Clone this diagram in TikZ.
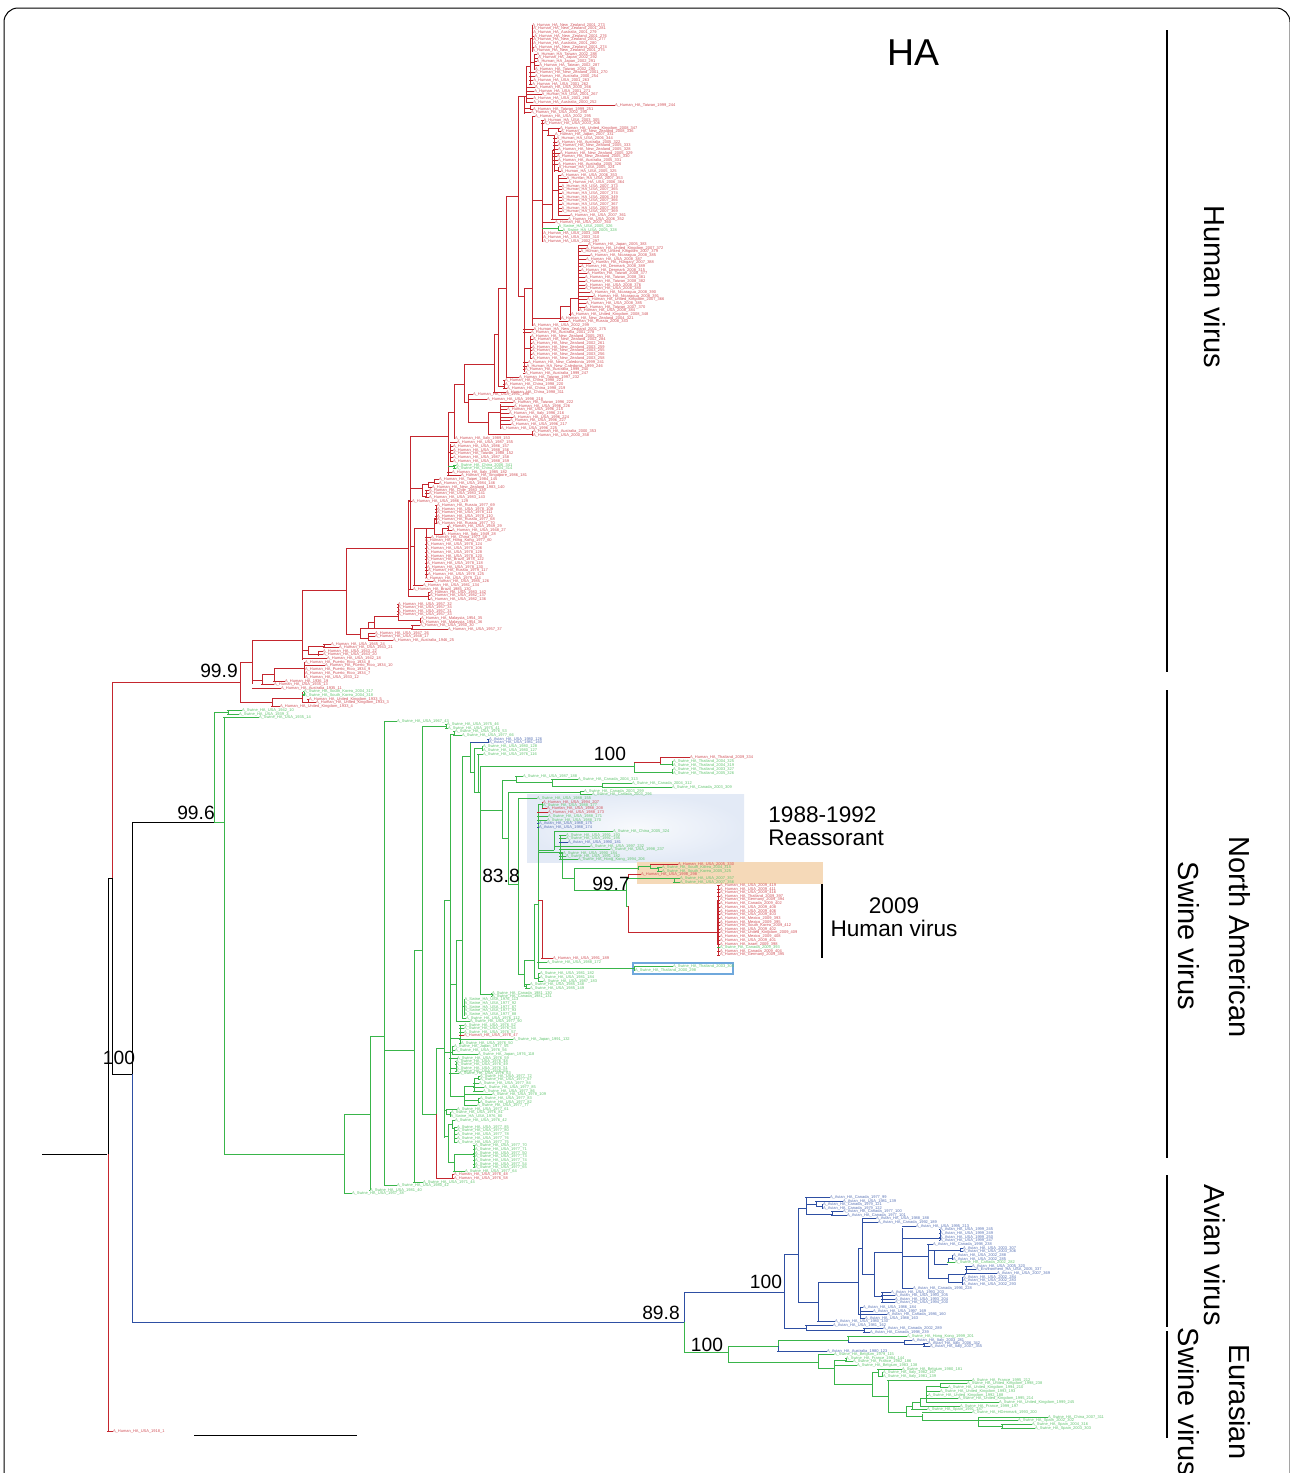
\documentclass[tikz,border=0pt]{standalone}
\usepackage{fontspec}
\setmainfont{Liberation Sans}
\definecolor{hred}{HTML}{C4262E}
\definecolor{sgreen}{HTML}{39B54A}
\definecolor{ablue}{HTML}{2E4FA3}
\definecolor{tipblue}{HTML}{6FA8DC}
\definecolor{orangeband}{HTML}{F5D9B8}
\definecolor{blueband}{HTML}{E3EAF6}
\catcode`\_=12
\tikzset{
 leaf/.style={anchor=west,inner sep=0pt,outer sep=0pt,font=\fontsize{2}{2.2}\selectfont},
 br/.style={line width=0.45pt,line cap=square},
 big/.style={inner sep=0pt,text=black,font=\fontsize{14.5}{17}\selectfont},
 mid/.style={inner sep=0pt,text=black,font=\fontsize{11.3}{11.5}\selectfont,align=left},
 boot/.style={inner sep=0pt,text=black,font=\fontsize{9.6}{11}\selectfont},
 bar/.style={line width=0.75pt,draw=black},
}
\newcounter{lfc}
\newcounter{sgc}
\def\cc{hred}
\newcommand\Lf[5]{\stepcounter{lfc}%
 \coordinate (j\thelfc) at (#2,#4);%
 \node[leaf,text=#1!80] (t\thelfc) at (#3,#4) {#5};%
 \draw[br,draw=#1] (j\thelfc) -- (t\thelfc.west);}
\newcommand\Hl[4]{\Lf{hred}{#1}{#2}{#3}{A_Human_HA_#4}}
\newcommand\Sl[4]{\Lf{sgreen}{#1}{#2}{#3}{A_Swine_HA_#4}}
\newcommand\Al[4]{\Lf{ablue}{#1}{#2}{#3}{A_Avian_HA_#4}}
\newcommand\Sg[4]{\stepcounter{sgc}%
 \pgfmathsetmacro\sgxa{2*round((#1)/2)}\pgfmathsetmacro\sgya{2*round((#2)/2)}%
 \pgfmathsetmacro\sgxb{2*round((#3)/2)}\pgfmathsetmacro\sgyb{2*round((#4)/2)}%
 \coordinate (p\thesgc) at (\sgxa,\sgya);\coordinate (q\thesgc) at (\sgxb,\sgyb);%
 \draw[br,draw=\cc] (p\thesgc) -- (q\thesgc);}
\newcommand\Vb[3]{\Sg{#1}{#2}{#1}{#3}}
\newcommand\Hb[3]{\Sg{#2}{#1}{#3}{#1}}
\begin{document}
\begin{tikzpicture}[x=0.5pt,y=-0.5pt]
\useasboundingbox (0,0) rectangle (1290,1473);
% frame
\coordinate (fa) at (4,1480);\coordinate (fb) at (4,8);\coordinate (fc) at (1290,8);\coordinate (fd) at (1290,1480);
\draw[black,line width=0.5pt,rounded corners=7pt] (fa) -- (fb) -- (fc) -- (fd);
% bands
\shade[inner color=white!75!blueband,outer color=blueband] (527,794) rectangle (744,862);
\fill[orangeband] (637,862) rectangle (823,884);
\node[draw=tipblue,line width=0.75pt,minimum width=50pt,minimum height=5.4pt,inner sep=0pt] (tipbox) at (683,968.5) {};
% === root ===
\def\cc{black}
\coordinate (root) at (42,1154);\coordinate (rootj) at (107,1154);
\draw[br,draw=black] (root) -- (rootj);
\Vb{107}{877}{1154}\Hb{877}{107}{112}
\Vb{112}{877}{1073}\Hb{1073}{112}{131}\Vb{131}{822}{1073}\Hb{822}{131}{214}
\def\cc{hred}
\Vb{107}{1154}{1431}\Hl{107}{113}{1431}{USA_1918_1}
\Vb{112}{682}{877}\Hb{682}{112}{240}
\Vb{240}{661}{701}\Hb{661}{240}{252}\Vb{252}{639}{683}\Hb{639}{252}{302}
\Hb{679}{252}{261}\Vb{261}{674}{684}\Hb{674}{261}{273}\Vb{273}{668}{681}\Hb{668}{273}{304}\Vb{304}{662}{677}
\Hl{304}{305}{662}{Puerto_Rico_1934_8}\Hl{304}{325}{665.5}{Puerto_Rico_1934_10}\Hl{304}{305}{669}{Puerto_Rico_1934_9}\Hl{304}{305}{673}{Puerto_Rico_1934_7}\Hl{304}{305}{677}{USA_1933_12}
\Hl{273}{285}{681}{1936_19}\Hl{261}{274}{684}{USA_1935_13}\Hl{252}{281}{688}{Australia_1935_11}
\Hb{701}{240}{271}\Vb{271}{697}{706}\Hb{697}{271}{301}\Vb{301}{692}{701}
\def\cc{sgreen}\Hb{693}{301}{303}\Vb{303}{691.5}{695}
\Sl{303}{304}{691.5}{South_Korea_2004_317}\Sl{303}{304}{695}{South_Korea_2004_318}
\def\cc{hred}\Hb{701}{301}{307}\Vb{307}{699}{702}\Hl{307}{309}{699}{United_Kingdom_1933_5}\Hl{307}{316}{702}{United_Kingdom_1933_3}\Hl{271}{280}{706}{United_Kingdom_1933_4}
% 1940s-50s
\Vb{302}{590}{659}\Hl{302}{327}{658.5}{USA_1942_18}
\Hb{650}{302}{307}\Vb{307}{646}{653}\Hb{646}{307}{323}\Vb{323}{644}{648}\Hl{323}{331}{644}{USA_1945_24}\Hl{323}{339}{647.5}{USA_1943_21}
\Hb{653}{307}{318}\Vb{318}{651}{655}\Hl{318}{323}{651}{USA_1943_22}\Hl{318}{323}{654.5}{USA_1943_20}
\Hb{590}{302}{346}\Vb{346}{547}{633}\Hb{633}{346}{359}\Vb{359}{628}{638}
\Hb{628}{359}{411}\Vb{411}{625}{629}\Hl{411}{420}{625}{USA_1950_30}\Hl{411}{448}{629}{USA_1957_37}
\Hb{621}{367}{373}\Vb{367}{621}{628}\Vb{373}{615}{628}\Hb{615}{373}{397}\Vb{397}{604}{620}
\Hl{397}{398}{604}{USA_1957_32}\Hl{397}{398}{607.5}{USA_1957_34}\Hl{397}{398}{611}{USA_1957_31}\Hl{397}{398}{614.5}{USA_1957_33}
\Hb{620}{397}{420}\Vb{420}{618}{622}\Hl{420}{421}{618}{Malaysia_1954_35}\Hl{420}{421}{622}{Malaysia_1954_36}
\Hb{638}{359}{368}\Vb{368}{633}{640}\Hl{368}{375}{633}{USA_1947_26}\Hl{368}{375}{636.5}{USA_1948_17}\Hl{368}{393}{640}{Australia_1946_25}
% x=407 group
\Hb{547}{346}{407}\Vb{407}{499}{595}\Hb{499}{407}{409}\Vb{409}{436}{589}\Hl{409}{412}{501}{USA_1986_129}\Hl{409}{413}{589.3}{Brazil_1985_130}
\Hb{488}{409}{421}\Vb{421}{483}{495}\Hb{483}{421}{428}\Vb{428}{481}{487}\Hb{481}{428}{434}\Vb{434}{479}{483}
\Hl{434}{439}{479}{Taipei_1984_145}\Hl{434}{439}{483}{USA_1984_146}\Hl{428}{432}{487}{New_Zealand_1983_140}
\Hb{495}{421}{425}\Vb{425}{490}{497}\Hl{425}{429}{490}{Chile_1983_139}\Hl{425}{429}{493.5}{USA_1983_141}\Hl{425}{429}{497}{USA_1983_143}
\Hb{545}{409}{413}\Vb{413}{527}{585}\Hl{413}{423}{585.3}{USA_1981_134}
\Hb{527}{413}{425}\Vb{425}{527}{578}\Hb{527}{425}{434}\Vb{434}{518}{533}\Hb{518}{434}{435}\Vb{435}{505}{523}
\Hl{435}{437}{505}{Russia_1977_69}\Hl{435}{437}{509}{USA_1978_108}\Hl{435}{437}{512.5}{USA_1978_111}\Hl{435}{437}{516}{USA_1978_110}\Hl{435}{437}{519.5}{Russia_1977_68}\Hl{435}{437}{523}{Russia_1977_70}
\Hb{533}{434}{441}\Vb{441}{528}{534}\Hb{528}{441}{447}\Vb{447}{526}{530}\Hl{447}{448}{526}{USA_1949_29}\Hl{447}{452}{530}{USA_1948_27}\Hl{441}{443}{534}{Italy_1949_28}
\Hl{425}{431}{537.3}{China_1977_58}\Hl{425}{425}{541}{Hong_Kong_1977_60}\Hl{425}{426}{544.3}{USA_1978_124}\Hl{425}{426}{548.3}{USA_1978_106}\Hl{425}{426}{552.3}{USA_1978_128}\Hl{425}{426}{556}{USA_1978_120}\Hl{425}{426}{559.3}{Brazil_1978_122}\Hl{425}{427}{563.3}{USA_1978_118}\Hl{425}{427}{567}{USA_1978_130}\Hl{425}{428}{570.7}{Russia_1979_117}\Hl{425}{428}{574.3}{USA_1978_125}\Hl{425}{425}{578}{USA_1979_114}\Hl{425}{433}{581.3}{USA_1985_126}
\Hb{595}{407}{428}\Vb{428}{592}{599}\Hl{428}{430}{592.3}{USA_1983_142}\Hl{428}{430}{595.7}{USA_1982_137}\Hl{428}{430}{599.3}{USA_1982_136}
% x=447 group
\Hb{436}{409}{447}\Vb{447}{411}{475}\Hl{447}{452}{472}{Italy_1985_182}\Hl{447}{461}{475.3}{Singapore_1986_181}
\Hb{451}{447}{450}\Vb{450}{443}{461}\Hl{450}{457}{442.3}{USA_1987_155}\Hl{450}{453}{446}{USA_1986_157}\Hl{450}{453}{450}{USA_1988_156}\Hl{450}{453}{453.7}{Taiwan_1988_152}\Hl{450}{453}{457.3}{USA_1987_158}\Hl{450}{453}{461}{USA_1988_159}
\def\cc{sgreen}\Hb{466}{447}{453}\Vb{453}{465}{468}\Sl{453}{456}{465}{China_2006_341}\Sl{453}{456}{468}{China_2004_314}
\def\cc{hred}
\Hb{411}{447}{454}\Vb{454}{383}{438}\Hl{454}{455}{438}{Italy_1989_153}\Hb{383}{454}{463}\Vb{463}{363}{402}\Hb{402}{463}{468}\Vb{468}{394}{422}
\Hl{468}{473}{394}{USA_1991_198}\Hl{468}{487}{399}{USA_1998_218}\Hb{422}{468}{488}\Vb{488}{411}{433}\Hb{433}{488}{532}\Vb{532}{431}{435}\Hl{532}{533}{431}{Australia_2000_353}\Hl{532}{533}{435}{USA_2000_358}
\Hb{411}{488}{500}\Vb{500}{403}{428}
\Hl{500}{513}{402}{Taiwan_1996_222}\Hl{500}{514}{406}{USA_1996_226}\Hl{500}{507}{409}{USA_1996_215}\Hl{500}{509}{413}{Italy_1996_216}\Hl{500}{513}{417}{USA_1996_224}\Hl{500}{510}{420}{USA_1996_227}\Hl{500}{511}{424}{USA_1996_217}\Hl{500}{501}{428}{USA_1996_225}
\Hb{363}{463}{493}\Vb{493}{334}{392}\Hl{493}{506}{392}{China_1998_311}\Hb{334}{493}{497}\Vb{497}{287}{385}\Hb{385}{497}{503}\Vb{503}{380}{388}
\Hl{503}{505}{380}{China_1998_221}\Hl{503}{505}{384}{China_1998_220}\Hl{503}{507}{388}{China_1998_219}
\Hb{287}{497}{506}\Vb{506}{195}{377}\Hl{506}{519}{377}{Taiwan_1997_232}\Hb{195}{506}{518}\Vb{518}{95}{295}
% top clade
\Hb{95}{518}{525.5}\Vb{524}{95}{113}\Hb{107}{524}{530}\Vb{530}{105.5}{109}
\Hl{530}{615}{105.5}{Taiwan_1999_244}\Hl{530}{533}{109}{Taiwan_1999_251}\Hl{524}{531}{112.7}{USA_2002_290}
\Vb{526}{65}{102}\Hb{65}{526}{529}\Vb{529}{38}{84}\Hb{38}{529}{531.5}\Vb{531.5}{25}{51}\Hb{61}{529}{534}\Vb{534}{54}{69}
\Hl{531.5}{532.3}{25}{New_Zealand_2001_273}\Hl{531.5}{533.3}{28.7}{New_Zealand_2001_281}\Hl{531.5}{533.3}{32.3}{Australia_2001_279}\Hl{531.5}{534.3}{36}{New_Zealand_2001_276}\Hl{531.5}{533.3}{39.7}{New_Zealand_2001_277}\Hl{531.5}{533.3}{43.3}{Australia_2001_280}\Hl{531.5}{534.3}{47}{New_Zealand_2001_274}\Hl{531.5}{532.3}{50.7}{New_Zealand_2001_275}
\Hl{534}{536.7}{54.3}{Taiwan_2002_288}\Hl{534}{538.3}{58}{Japan_2002_292}\Hl{534}{536.7}{61.7}{Japan_2002_291}\Hl{534}{539.3}{65.3}{Taiwan_2002_287}\Hl{534}{535}{69}{Taiwan_2002_290}
\Hl{529}{535}{72.3}{New_Zealand_2001_270}\Hl{529}{535}{76.7}{Australia_2000_254}\Hl{529}{533.3}{80.3}{USA_2001_263}\Hl{529}{532.3}{84}{USA_2001_262}
\Hl{526}{535}{87.3}{USA_2000_266}\Hl{526}{534.3}{91}{USA_2001_271}\Hl{526}{541.7}{94.7}{USA_2001_267}\Hl{526}{533.3}{98.3}{USA_2001_268}\Hl{526}{533.3}{102}{Australia_2000_252}
% second clade
\Hb{295}{518}{523}\Vb{523}{287}{372}\Hb{287}{523}{532}\Vb{532}{116}{325}
\Hl{532}{535}{116}{USA_2002_295}\Hl{532}{533}{325}{USA_2002_299}
\Hb{200}{532}{541}\Vb{541}{120}{205}\Hl{541}{543.5}{120}{USA_2003_305}\Hl{541}{544}{123.7}{USA_2003_306}
\Hb{130}{541}{547}\Vb{547}{128}{135}\Hb{128}{547}{558}\Vb{558}{128}{131}\Hl{558}{560}{128}{United_Kingdom_2008_347}\Hl{558}{561}{131}{New_Zealand_2008_336}\Hl{547}{555}{135}{Japan_2007_331}
\Hb{203}{541}{551}\Vb{551}{150}{219}\Hl{551}{568}{219}{USA_2006_352}\Hb{150}{551}{553}\Vb{553}{136}{172}
\Hl{553}{556.7}{138.7}{USA_2006_344}\Hl{553}{557}{142}{Australia_2005_322}\Hl{553}{558}{145.7}{New_Zealand_2005_333}\Hl{553}{558}{149.3}{New_Zealand_2005_328}\Hl{553}{560}{153}{New_Zealand_2005_329}\Hl{553}{557}{156.7}{New_Zealand_2005_330}\Hl{553}{558}{160.3}{Australia_2005_331}\Hl{553}{558}{164.3}{Australia_2005_326}
\Hb{169.5}{553}{558}\Vb{558}{167.7}{171.3}\Hl{558}{558.5}{167.7}{USA_2005_324}\Hl{558}{560.5}{171.3}{USA_2005_325}
\Hb{190}{551}{558}\Vb{558}{175}{215}
\Hl{558}{561}{175}{USA_2006_353}\Hl{558}{566.7}{178.7}{USA_2007_353}\Hl{558}{568.3}{182.3}{USA_2006_364}\Hl{558}{561.7}{186}{USA_2007_373}\Hl{558}{561.7}{189.7}{USA_2007_365}\Hl{558}{561.7}{193.3}{USA_2007_374}\Hl{558}{561.7}{197}{USA_2006_349}\Hl{558}{561.7}{200.7}{USA_2007_366}\Hl{558}{561.7}{204.3}{USA_2007_367}\Hl{558}{561.7}{208}{USA_2007_368}\Hl{558}{561.7}{211.7}{USA_2007_369}\Hl{558}{570}{215.3}{USA_2007_361}
\Vb{542}{205}{241}\Hl{542}{555}{222.7}{USA_2007_360}
\def\cc{sgreen}\Hb{228}{542}{558}\Vb{558}{226.7}{230}\Sl{558}{558.5}{226.7}{USA_2005_326}\Sl{558}{562.7}{230}{USA_2005_328}\def\cc{hred}
\Hl{542}{543.3}{233.7}{USA_2003_309}\Hl{542}{543.3}{237.3}{USA_2003_310}\Hl{542}{543.3}{241}{USA_2002_297}
\Hb{317}{532}{559}\Vb{559}{305}{320}\Hb{305}{559}{569}\Vb{569}{297}{315}\Hb{297}{569}{578}\Vb{578}{245}{310.7}
\Hl{569}{571}{314.7}{United_Kingdom_2008_348}\Hl{559}{561}{318}{New_Zealand_2004_321}\Hl{559}{568}{321}{Russia_2008_343}
\Hl{578}{588}{245}{Japan_2005_383}\Hl{578}{586}{248.3}{United_Kingdom_2007_372}\Hl{578}{580.7}{251.7}{United_Kingdom_2007_379}\Hl{578}{590}{255.7}{Nicaragua_2008_385}\Hl{578}{586}{259}{USA_2008_387}\Hl{578}{591}{263}{Hungary_2007_388}\Hl{578}{581}{266.3}{Denmark_2008_389}\Hl{578}{581}{270}{Denmark_2008_315}\Hl{578}{587}{273.7}{Taiwan_2008_377}\Hl{578}{585}{277.7}{Taiwan_2008_381}\Hl{578}{585}{281.3}{Taiwan_2008_382}\Hl{578}{585}{285}{USA_2008_376}\Hl{578}{585}{288.7}{USA_2008_380}\Hl{578}{590}{292.3}{Nicaragua_2008_390}\Hl{578}{593}{296}{Nicaragua_2008_391}\Hl{578}{587}{299.7}{United_Kingdom_2007_366}\Hl{578}{586}{303.3}{USA_2008_385}\Hl{578}{585}{307}{Taiwan_2007_370}\Hl{578}{579}{310.7}{USA_2008_384}
\Hl{523}{533.5}{329}{New_Zealand_2001_275}\Hl{523}{531}{332}{Australia_2001_278}
\Hb{347}{523}{530}\Vb{530}{336.3}{358.3}
\Hl{530}{531}{336.3}{New_Zealand_2005_293}\Hl{530}{533}{339.7}{New_Zealand_2002_284}\Hl{530}{532}{343.3}{New_Zealand_2002_261}\Hl{530}{532}{347.3}{New_Zealand_2003_259}\Hl{530}{532}{350.7}{New_Zealand_2003_255}\Hl{530}{532}{354.7}{New_Zealand_2003_256}\Hl{530}{532}{358.3}{New_Zealand_2003_258}
\Hl{523}{528}{362.3}{New_Caledonia_1999_241}\Hl{523}{526.7}{366}{New_Caledonia_1999_246}\Hl{523}{525}{369.3}{Australia_1999_240}\Hl{523}{525}{373}{Australia_1999_247}
% === green ===
\def\cc{sgreen}
\Vb{214}{712}{822}\Hb{822}{214}{223}\Hb{712}{214}{227}\Vb{227}{710}{714}\Sl{227}{242}{710}{USA_1942_10}\Sl{227}{239}{714}{USA_1939_3}
\Vb{223}{717}{1153}\Sl{223}{259}{717}{USA_1935_14}\Hb{1153}{223}{344}\Vb{344}{1113}{1193}\Sl{344}{352}{1193}{USA_1957_38}
\Hb{1113}{344}{369}\Vb{369}{1036}{1190}\Sl{369}{370}{1190}{USA_1981_40}\Hb{1036}{369}{384}\Vb{384}{721}{1185}\Sl{384}{397}{721}{USA_1967_43}\Sl{384}{397}{1185}{USA_1980_42}
\Hb{1050}{384}{413}\Vb{413}{950}{1182}\Sl{413}{423}{1182}{USA_1971_44}\Hb{950}{413}{422}\Vb{422}{726}{1113}\Hb{726}{422}{445}\Vb{445}{724}{728}\Sl{445}{447}{724}{USA_1975_46}\Sl{445}{448}{728}{USA_1975_41}
\Hb{1113}{422}{435}\Vb{435}{1047}{1113}
\def\cc{hred}\Vb{435}{1113}{1177}\Hb{1177}{435}{452}\Vb{452}{1174.6}{1178}\Hl{452}{454}{1174.6}{USA_1976_48}\Hl{452}{454}{1178}{USA_1976_58}\def\cc{sgreen}
\Hb{1047}{435}{443}\Vb{443}{900}{1137}\Hb{900}{443}{449}
\Hb{1051}{443}{452}\Vb{452}{1046}{1054}\Sl{452}{454}{1046.5}{Japan_1977_55}\Sl{452}{455}{1050}{USA_1976_56}\Sl{452}{478}{1054}{Japan_1976_118}
\Hb{1110}{443}{446}\Vb{446}{1109}{1114}\Sl{446}{457}{1109}{USA_1977_61}\Hb{1114}{446}{450}\Vb{450}{1112.5}{1116.5}\Sl{450}{451}{1112.5}{USA_1976_81}\Sl{450}{450.5}{1116.5}{USA_1976_80}
\Hb{1135}{443}{448}\Vb{448}{1123}{1162}\Hb{1123}{448}{452}\Vb{452}{1120}{1128}\Sl{452}{455}{1120}{USA_1976_42}\Hb{1128}{452}{454}\Vb{454}{1127}{1142}
\Sl{454}{457}{1127}{USA_1977_85}\Sl{454}{457}{1130.5}{USA_1977_80}\Sl{454}{457}{1134}{USA_1977_78}\Sl{454}{457}{1138}{USA_1977_76}\Sl{454}{457}{1142}{USA_1977_75}
\Hb{1162}{448}{453}\Vb{453}{1153}{1171}\Hb{1153}{453}{473}\Vb{473}{1145.5}{1168}\Sl{453}{465}{1171}{USA_1977_64}
\Sl{473}{475}{1145.5}{USA_1977_70}\Sl{473}{475}{1149.5}{USA_1977_71}\Sl{473}{475}{1153}{USA_1977_50}\Sl{473}{475}{1156.5}{USA_1977_73}\Sl{473}{475}{1160.5}{USA_1977_74}\Sl{473}{475}{1164}{USA_1977_54}\Sl{473}{475}{1167.5}{USA_1977_65}
\Vb{449}{733}{1095}\Hb{733}{449}{453}\Vb{453}{731}{735}\Sl{453}{455}{731}{USA_1976_53}\Sl{453}{462}{735}{USA_1977_66}
\Hb{1058}{449}{457}\Sl{449}{457}{1058}{USA_1976_59}\Hb{1068}{449}{455}\Vb{455}{1061}{1072}\Sl{455}{456}{1061}{USA_1976_48}\Sl{455}{456}{1064.5}{USA_1976_49}\Sl{455}{456}{1068}{USA_1976_51}\Sl{455}{456}{1071.5}{USA_1976_55}\Sl{449}{459}{1073}{USA_1976_63}
\Hb{1095}{449}{464}\Vb{464}{1085}{1105}\Hb{1085}{464}{473}\Vb{473}{1077}{1091}\Hb{1077}{473}{478}\Vb{478}{1076}{1079.5}\Sl{478}{480}{1076}{USA_1977_72}\Sl{478}{480}{1079.5}{USA_1977_67}\Sl{473}{479}{1083}{USA_1977_84}\Sl{473}{484}{1087}{USA_1977_85}\Sl{473}{483}{1091}{USA_1977_86}
\Sl{464}{492}{1094.5}{USA_1978_109}\Hb{1100}{464}{478}\Vb{478}{1098}{1102}\Sl{478}{480}{1098}{USA_1977_83}\Sl{478}{480}{1102}{USA_1977_82}\Sl{464}{477}{1105.5}{USA_1977_77}
\Hb{1038}{449}{459}\Vb{459}{1025}{1043}\Sl{459}{464}{1025}{USA_1976_52}\Sl{459}{464}{1028.5}{USA_1976_54}\Sl{459}{464}{1032}{USA_1976_57}\Hl{459}{464}{1035.5}{USA_1976_47}\Sl{459}{513}{1039}{Japan_1991_132}\Sl{459}{461}{1043}{USA_1976_50}
\Hb{983}{449}{456}\Vb{456}{940}{1021}\Sl{456}{470}{1021}{USA_1977_90}\Hb{940}{456}{462}
\Vb{462}{756}{1018}\Sl{462}{466}{1018}{USA_1976_112}\Hb{1005}{462}{464}\Vb{464}{999}{1015}
\Sl{464}{464.5}{999}{USA_1976_113}\Sl{464}{464.5}{1003.5}{USA_1977_92}\Sl{464}{464.5}{1007}{USA_1977_87}\Sl{464}{464.5}{1010.5}{USA_1977_93}\Sl{464}{464.5}{1014.5}{USA_1977_88}
\Hb{756}{462}{470}\Vb{470}{741}{771}\def\cc{ablue}\Hb{741}{470}{487}\Vb{487}{739}{742.5}\Al{487}{489}{739}{USA_1980_126}\Al{487}{489}{742.5}{USA_1981_160}\def\cc{sgreen}
\Hb{771}{470}{473}\Vb{473}{748}{792}\Hb{748}{473}{482}\Vb{482}{746}{750}\Sl{482}{483}{746}{USA_1980_128}\Sl{482}{483}{750}{USA_1980_127}
\Hb{792}{473}{477}\Vb{477}{754}{792}\Sl{477}{483}{754}{USA_1976_116}\Hb{792}{477}{480}
\Vb{480}{765}{993}\Hb{993}{480}{491}\Vb{491}{993}{996}\Sl{491}{492}{993}{Canada_1981_130}\Sl{491}{492}{996}{Canada_1981_131}
\Hb{765}{480}{633}\Vb{633}{761}{771}\def\cc{hred}\Hb{761}{633}{660}\Vb{660}{757}{763}\Hl{660}{690}{757}{Thailand_2009_334}\def\cc{sgreen}\Hb{763}{660}{672}\Vb{672}{761}{765}\Sl{672}{673}{761}{Thailand_2004_325}\Sl{672}{673}{765}{Thailand_2004_319}
\Hb{771}{633}{672}\Vb{672}{769}{773}\Sl{672}{673}{769}{Thailand_2003_327}\Sl{672}{673}{773}{Thailand_2005_326}
\Hb{809}{480}{502}\Vb{502}{779}{838}\Hb{779}{502}{515}\Vb{515}{776}{782}\Sl{515}{523}{776}{USA_1987_188}\Hb{782}{515}{551}\Vb{551}{779.5}{785}\Sl{551}{578}{779.5}{Canada_2004_313}\Hb{785}{551}{602}\Vb{602}{783}{787}\Sl{602}{632}{783}{Canada_2004_312}\Sl{602}{672}{787}{Canada_2003_309}
\Hb{838}{502}{507}\Vb{507}{792}{883}\Hb{792}{507}{580}\Vb{580}{791}{794}\Sl{580}{584}{791}{Canada_2003_299}\Sl{580}{592}{794}{Canada_2003_296}
\Hb{883}{507}{518}\Vb{518}{798}{973}\Sl{518}{537}{798}{USA_1988_155}\Hb{973}{518}{523}\Vb{523}{960}{985}\Hb{985}{523}{525}\Vb{525}{984}{988}\Sl{525}{530}{984}{USA_1985_148}\Sl{525}{530}{988}{USA_1985_149}
\Hb{960}{523}{533}\Vb{533}{903}{977}\Hb{977}{533}{538}\Vb{538}{973}{981}\Sl{538}{540}{973}{USA_1981_182}\Sl{538}{540}{977}{USA_1981_184}\Sl{538}{543}{981}{USA_1987_183}
\Hb{903}{533}{537}\Vb{537}{803}{967}\Sl{537}{547}{962}{USA_1988_172}
\Hb{967}{537}{634}\Vb{634}{966}{970}\Sl{634}{673}{966}{Thailand_2003_304}\Sl{634}{635}{970}{Thailand_2000_298}
\Hb{804}{537}{542}\Vb{542}{802}{808}\Hl{542}{543}{802}{USA_1994_207}\Sl{542}{543}{805}{USA_1988_177}\Hl{542}{547}{808}{USA_1988_208}
\Hl{537}{548}{812}{USA_1988_173}\Sl{537}{548}{816}{USA_1988_171}\Sl{537}{547}{820}{USA_1988_170}\Al{537}{539}{823}{USA_1988_175}\Al{537}{539}{827}{USA_1988_174}
\Hb{850}{537}{554}\Vb{554}{831}{850}\Sl{554}{613}{831}{China_2005_324}\Hb{845}{554}{559}\Vb{559}{835}{859}
\Sl{559}{566}{835}{USA_1991_193}\Sl{559}{566}{838}{USA_1991_195}\Al{559}{568}{842}{USA_1990_181}\Sl{559}{590}{846}{USA_1997_232}\Sl{559}{610}{849}{USA_1998_237}\Sl{559}{563}{853}{USA_1990_184}\Sl{559}{566}{856}{USA_1991_182}\Sl{559}{578}{859}{Hong_Kong_1994_206}
\Hb{852}{537}{561}\Vb{561}{852}{878}\Hb{878}{561}{574}\Vb{574}{867}{890}
\Hb{867}{574}{637}\Vb{637}{866}{870}\Hb{866}{637}{650}\Vb{650}{864}{868}\Hl{650}{678}{864}{USA_2005_330}\Hb{868}{650}{657}\Vb{657}{867}{871}\Sl{657}{662}{867}{South_Korea_2004_315}\Sl{657}{662}{871}{South_Korea_2005_325}
\Hb{890}{574}{626}\Vb{626}{878}{906}\Hb{878}{626}{673}\Vb{673}{878}{882}\Sl{673}{680}{878}{USA_2007_357}\Sl{673}{680}{882}{USA_2007_356}
\Hb{906}{626}{628}
\def\cc{hred}\Hl{628}{641}{874}{USA_1998_298}\Vb{628}{874}{878}
\Vb{628}{906}{932}\Hb{932}{628}{717}\Vb{717}{885}{955}
\Hb{900}{537}{541}\Vb{541}{900}{958}\Hl{541}{553}{958}{USA_1991_189}
\coordinate (th1) at (718,900);\coordinate (th2) at (718,945);\draw[draw=hred,line width=0.9pt] (th1) -- (th2);
\Hl{717}{720}{885}{USA_2009_419}\Hl{717}{720}{889}{USA_2009_411}\Hl{717}{720}{892.7}{USA_2009_416}\Hl{717}{720}{896.3}{Thailand_2009_397}\Hl{717}{720}{900}{Germany_2009_394}\Hl{717}{720}{903.7}{Canada_2009_402}\Hl{717}{720}{907.3}{USA_2009_408}\Hl{717}{720}{911}{USA_2009_406}\Hl{717}{720}{914.7}{USA_2009_403}\Hl{717}{720}{918.3}{Mexico_2009_393}\Hl{717}{720}{922.3}{Mexico_2009_395}\Hl{717}{720}{925.7}{South_Korea_2009_412}\Hl{717}{720}{929.3}{USA_2009_402}\Hl{717}{720}{932.7}{United_Kingdom_2009_409}\Hl{717}{720}{936.7}{Mexico_2009_408}\Hl{717}{720}{940.3}{USA_2009_401}\Hl{717}{720}{944}{Israel_2009_398}\Sl{717}{720}{947.3}{Canada_2009_393}\Hl{717}{720}{951.3}{Canada_2009_404}\Hl{717}{720}{955}{Germany_2009_395}
% === avian ===
\def\cc{ablue}
\Hb{1322}{131}{684}\Vb{131}{1073}{1322}\Vb{684}{1291}{1322}\Hb{1291}{684}{784}\Vb{784}{1254}{1328}\Hb{1254}{784}{797}\Vb{797}{1207}{1301}\Hb{1207}{797}{805}\Vb{805}{1197}{1213}
\Al{805}{830}{1197}{Canada_1977_99}\Hb{1203}{805}{815}\Vb{815}{1201}{1206}\Al{815}{843}{1201}{USA_1981_139}\Hb{1206}{815}{822}\Vb{822}{1204}{1208}\Al{822}{823}{1204}{Canada_1979_121}\Al{822}{823}{1208}{Canada_1979_122}
\Hb{1213}{805}{831}\Vb{831}{1211}{1215}\Al{831}{843}{1211}{Canada_1977_100}\Al{831}{847}{1215}{Canada_1977_101}
\Hb{1301}{797}{817}\Vb{817}{1281}{1321}\Al{817}{835}{1321}{USA_1980_130}\Hb{1281}{817}{857}\Vb{857}{1247}{1313}\Hb{1247}{857}{862}\Vb{862}{1218}{1273}\Al{862}{876}{1218}{USA_1988_188}\Al{862}{878}{1222}{Canada_1992_189}
\Hb{1273}{862}{873}\Vb{873}{1252}{1296}\Hb{1252}{873}{902}\Vb{902}{1228}{1288}\Al{902}{913}{1288}{Canada_1996_228}\Al{902}{916}{1226}{USA_1995_213}
\Hb{1237}{902}{939}\Vb{939}{1229}{1240}\Al{939}{940}{1229}{USA_1999_245}\Al{939}{940}{1233}{USA_1999_249}\Al{939}{940}{1237}{USA_1999_250}\Al{939}{940}{1240}{USA_1999_247}
\Hb{1256}{902}{927}\Vb{927}{1244}{1277}\Al{927}{933}{1244}{Canada_1998_238}\Hb{1250}{927}{934}\Vb{934}{1250}{1264}\Hb{1250}{934}{960}\Vb{960}{1248}{1251.5}\Al{960}{963}{1248}{USA_2003_307}\Al{960}{963}{1251.5}{USA_2003_306}
\Hb{1264}{934}{947}\Vb{947}{1257}{1262}\Hb{1257}{947}{952}\Vb{952}{1255}{1259}\Al{952}{953}{1255}{USA_2002_288}\Al{952}{953}{1259}{USA_2002_285}\Sl{947}{955}{1262}{Canada_2002_282}
\Hb{1277}{927}{948}\Vb{948}{1273}{1281}\Hb{1273}{948}{965}\Vb{965}{1266}{1273}\Al{965}{972}{1266}{USA_2005_320}\Lf{ablue}{965}{976}{1269}{A_Environment_HA_USA_2005_337}\Al{965}{997}{1273}{USA_2007_369}
\Hb{1281}{948}{962}\Vb{962}{1277}{1284}\Al{962}{963}{1277}{USA_2002_284}\Al{962}{963}{1280.5}{USA_2002_283}\Al{962}{963}{1284}{USA_2002_293}
\Hb{1296}{873}{881}\Vb{881}{1292}{1302}\Al{881}{891}{1292}{USA_1993_203}\Al{881}{895}{1295.5}{USA_1993_205}\Al{881}{895}{1299}{USA_1993_204}\Al{881}{895}{1302.5}{USA_1994_200}
\Hb{1313}{857}{860}\Vb{860}{1307}{1318}\Al{860}{863}{1307}{USA_1986_184}\Al{860}{873}{1311}{USA_1997_169}\Al{860}{887}{1314}{Canada_1986_160}\Al{860}{865}{1318}{USA_1988_163}
\Hb{1328}{784}{805}\Vb{805}{1325}{1330}\Al{805}{833}{1325}{USA_1981_162}\Hb{1330}{805}{863}\Vb{863}{1328}{1332}\Al{863}{883}{1328}{Canada_2002_289}\Al{863}{870}{1332}{Canada_1998_239}
% === eurasian ===
\def\cc{sgreen}
\Vb{684}{1322}{1352}\Hb{1352}{684}{727}\Vb{727}{1345}{1361}\Hb{1345}{727}{777}\Vb{777}{1339}{1345}\Hb{1339}{777}{847}\Vb{847}{1336}{1339}\Sl{847}{907}{1336}{Hong_Kong_1999_201}
\def\cc{ablue}\Vb{777}{1345}{1351}\Vb{847}{1339}{1342}\Al{777}{827}{1351}{Australia_1980_123}\Hb{1342}{847}{904}\Vb{904}{1340}{1344}\Al{904}{912}{1340}{Italy_2003_281}\Hb{1344}{904}{923}\Vb{923}{1343}{1346}\Al{923}{928}{1343}{Italy_2006_342}\Al{923}{930}{1346}{Italy_2007_355}
\def\cc{sgreen}
\Hb{1361}{727}{818}\Vb{818}{1354}{1367}\Sl{818}{834}{1354}{Belgium_1979_115}\Hb{1367}{818}{834}\Vb{834}{1360}{1383}\Hb{1360}{834}{845}\Vb{845}{1358}{1361}\Sl{845}{846}{1358}{France_1984_144}\Sl{845}{853}{1361}{France_1982_186}\Sl{834}{857}{1365}{Belgium_1983_138}
\Hb{1383}{834}{871}\Vb{871}{1372}{1395}\Hb{1372}{871}{877}\Vb{877}{1369}{1375}\Sl{877}{902}{1369}{Belgium_1980_181}\Hb{1375}{877}{882}\Vb{882}{1372.5}{1376}\Sl{882}{883}{1372.5}{Italy_1982_167}\Sl{882}{883}{1376}{Italy_1981_139}
\Hb{1395}{871}{887}\Vb{887}{1380}{1411}\Sl{887}{972}{1380}{France_1995_212}\Hb{1411}{887}{906}\Vb{906}{1405}{1416}\Hb{1405}{906}{911}\Vb{911}{1402}{1409}\Hb{1402}{911}{920}\Vb{920}{1398}{1405}
\Hb{1398}{920}{926}\Vb{926}{1385}{1402}\Hb{1385}{926}{940}\Vb{940}{1383}{1387}\Sl{940}{967}{1383}{United_Kingdom_1998_238}\Sl{940}{948}{1387}{United_Kingdom_1994_210}\Sl{926}{940}{1391}{United_Kingdom_1993_193}\Sl{926}{928}{1395}{United_Kingdom_1992_188}\Sl{926}{958}{1398}{United_Kingdom_1995_214}\Sl{926}{999}{1402}{United_Kingdom_1999_245}
\Sl{920}{960}{1406}{France_1999_197}\Sl{911}{927}{1409}{Spain_1991_187}
\Hb{1416}{906}{922}\Vb{922}{1413}{1420}\Sl{922}{972}{1412.5}{HDenmark_1993_200}\Hb{1420}{922}{978}\Vb{978}{1417}{1425}\Sl{978}{1048}{1417}{China_2007_311}\Sl{978}{1018}{1420}{Spain_2002_302}\Hb{1425}{978}{1001}\Vb{1001}{1424}{1428}\Sl{1001}{1032}{1424}{Spain_2004_316}\Sl{1001}{1035}{1428}{Spain_2003_303}
% scale bar
\coordinate (sa) at (194,1435);\coordinate (sb) at (357,1435);\draw[draw=black,line width=0.4pt] (sa) -- (sb);
% side bars
\coordinate (b1a) at (1167,30);\coordinate (b1b) at (1167,672);\draw[bar] (b1a) -- (b1b);
\coordinate (b2a) at (1167,690);\coordinate (b2b) at (1167,1158);\draw[bar] (b2a) -- (b2b);
\coordinate (b3a) at (1167,1175);\coordinate (b3b) at (1167,1327);\draw[bar] (b3a) -- (b3b);
\coordinate (b4a) at (1167,1331);\coordinate (b4b) at (1167,1438);\draw[bar] (b4a) -- (b4b);
\coordinate (b5a) at (822,884);\coordinate (b5b) at (822,958);\draw[draw=black,line width=1.3pt] (b5a) -- (b5b);
% labels
\node[inner sep=0pt,font=\fontsize{18.7}{20}\selectfont] (ha) at (913,53) {HA};
\node[big,rotate=-90] (l1) at (1215,287) {Human virus};
\node[big,rotate=-90] (l2) at (1240,937) {North American};
\node[big,rotate=-90] (l3) at (1189,936) {Swine virus};
\node[big,rotate=-90] (l4) at (1215,1255) {Avian virus};
\node[big,rotate=-90] (l5) at (1240,1402) {Eurasian};
\node[big,rotate=-90] (l6) at (1189,1402) {Swine virus};
\node[mid,anchor=north west] (l7) at (768,806.5) {1988-1992\\Reassorant};
\node[mid,align=center] (l8) at (894,917) {2009\\Human virus};
\node[boot] (n1) at (219,671) {99.9};
\node[boot] (n2) at (196,813) {99.6};
\node[boot] (n3) at (119,1058) {100};
\node[boot] (n4) at (610,754) {100};
\node[boot] (n5) at (501,876) {83.8};
\node[boot] (n6) at (611,884) {99.7};
\node[boot] (n7) at (766,1282) {100};
\node[boot] (n8) at (661,1313) {89.8};
\node[boot] (n9) at (707,1345) {100};
\end{tikzpicture}
\end{document}
